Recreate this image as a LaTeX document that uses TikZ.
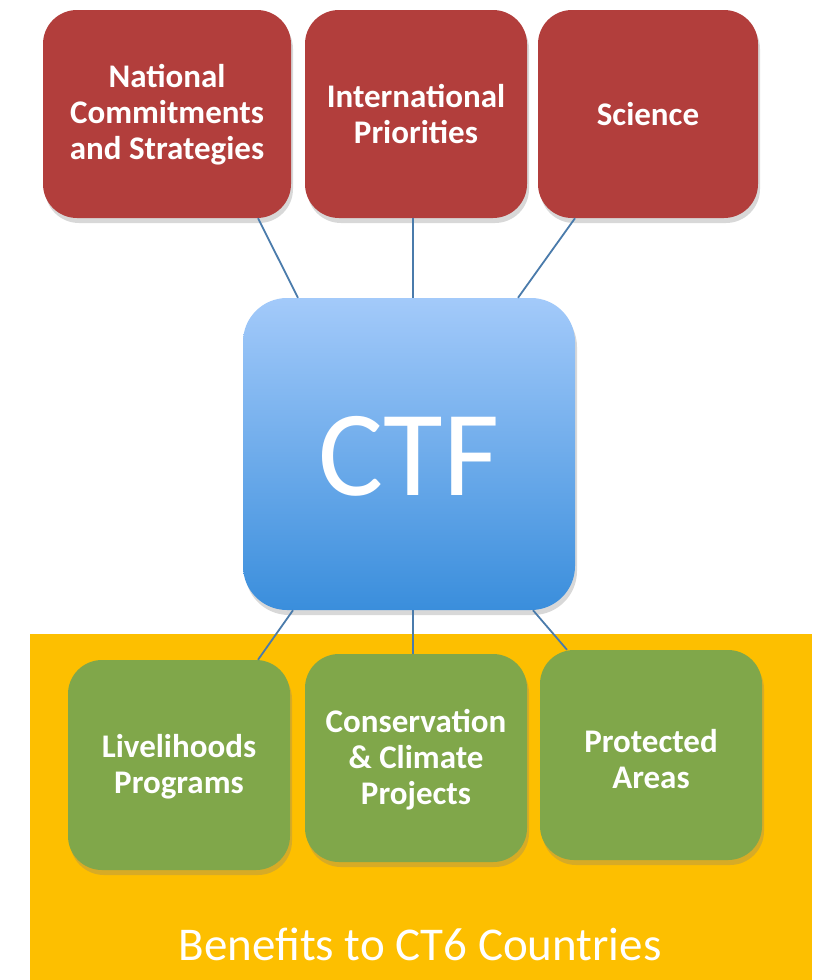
\documentclass[tikz,border=0pt]{standalone}
\usepackage{fontspec}
\setmainfont{Carlito}
\usetikzlibrary{shadows}
\definecolor{boxred}{RGB}{178,62,60}
\definecolor{boxgreen}{RGB}{128,167,74}
\definecolor{bgyellow}{RGB}{253,191,0}
\definecolor{ctftop}{RGB}{163,202,250}
\definecolor{ctfbot}{RGB}{58,142,220}
\definecolor{linkblue}{RGB}{74,123,171}
\tikzset{
  x=1pt,y=-1pt,
  tile/.style={rounded corners=34pt, inner sep=0pt,
    drop shadow={opacity=0.3, shadow xshift=2pt, shadow yshift=-5pt}},
  redtile/.style={tile, fill=boxred},
  greentile/.style={tile, fill=boxgreen},
  tiletext/.style={text=white, align=center, font=\fontsize{33}{36}\selectfont\bfseries},
  link/.style={draw=linkblue, line width=1.8pt}
}
\begin{document}
\begin{tikzpicture}
\useasboundingbox (0,0) rectangle (817,980);
\fill[white] (0,0) rectangle (817,980);
\fill[bgyellow] (30,634) rectangle (812,980);
% top tiles
\node[redtile, minimum width=248pt, minimum height=208pt] (nat) at (167,114) {};
\node[tiletext] (natt) at (167,115) {National\\Commitments\\and Strategies};
\node[redtile, minimum width=222pt, minimum height=208pt] (intl) at (416,114) {};
\node[tiletext] (intlt) at (416,114) {International\\Priorities};
\node[redtile, minimum width=220pt, minimum height=208pt] (sci) at (648,114) {};
\node[tiletext] (scit) at (648,114) {Science};
% CTF
\node[rounded corners=44pt, top color=ctftop, bottom color=ctfbot, minimum width=332pt, minimum height=312pt,
  drop shadow={opacity=0.3, shadow xshift=2pt, shadow yshift=-5pt}] (ctf) at (409,454) {};
\node[text=white, font=\fontsize{122}{122}\selectfont] (ctft) at (409,456) {CTF};
% bottom tiles
\node[greentile, minimum width=222pt, minimum height=210pt] (liv) at (179,765) {};
\node[tiletext] (livt) at (179,767) {Livelihoods\\Programs};
\node[greentile, minimum width=222pt, minimum height=208pt] (cons) at (416,758) {};
\node[tiletext] (const) at (416,760) {Conservation\\\& Climate\\Projects};
\node[greentile, minimum width=222pt, minimum height=210pt] (prot) at (651,755) {};
\node[tiletext] (prott) at (651,759) {Protected\\Areas};
\node[text=white, font=\fontsize{47}{47}\selectfont] (ben) at (420,944) {Benefits to CT6 Countries};
% links
\coordinate (n1) at ([xshift=91pt]nat.south);
\coordinate (c1) at ([xshift=-111pt]ctf.north);
\coordinate (c2) at ([xshift=4pt]ctf.north);
\coordinate (i1) at ([xshift=-3pt]intl.south);
\coordinate (s1) at ([xshift=-73pt]sci.south);
\coordinate (c3) at ([xshift=109pt]ctf.north);
\draw[link] (n1) -- (c1);
\draw[link] (i1) -- (c2);
\draw[link] (s1) -- (c3);
\coordinate (d1) at ([xshift=-116pt]ctf.south);
\coordinate (d2) at ([xshift=4pt]ctf.south);
\coordinate (d3) at ([xshift=124pt]ctf.south);
\coordinate (l1) at ([xshift=79pt]liv.north);
\coordinate (o1) at ([xshift=-3pt]cons.north);
\coordinate (p1) at ([xshift=-84pt]prot.north);
\draw[link] (d1) -- (l1);
\draw[link] (d2) -- (o1);
\draw[link] (d3) -- (p1);
\end{tikzpicture}
\end{document}
